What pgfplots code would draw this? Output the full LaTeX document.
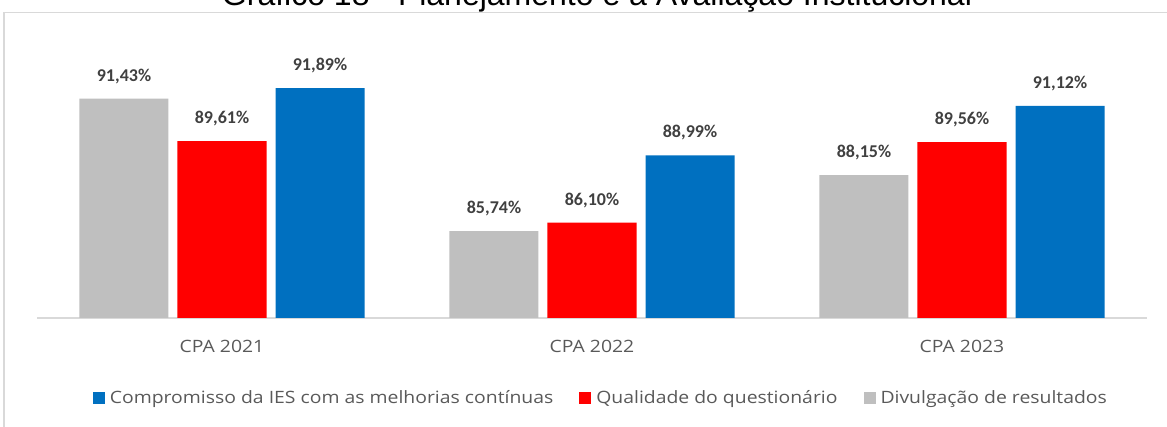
\documentclass[border=0pt]{standalone}
\usepackage{pgfplots}
\pgfplotsset{compat=1.18}
\usepackage{fontspec}
\setmainfont[FakeStretch=1.14]{Open Sans}
\newfontfamily\arialf{Liberation Sans}
\newfontfamily\labf{Carlito}
\definecolor{cblue}{HTML}{0070C0}
\definecolor{cred}{HTML}{FF0000}
\definecolor{cgray}{HTML}{BFBFBF}
\definecolor{labgray}{HTML}{404040}
\definecolor{tickgray}{HTML}{595959}
\definecolor{framegray}{HTML}{D9D9D9}
\begin{document}
\begin{tikzpicture}[x=1pt,y=1pt]
\draw[framegray, line width=1.2pt] (4,-60) -- (4,414.5) -- (1220,414.5);
\node[anchor=base, inner sep=0pt, font=\arialf\fontsize{32}{36}\selectfont] at (597,421) {Gráfico 18 - Planejamento e a Avaliação Institucional};
\begin{axis}[
  at={(37pt,109pt)}, anchor=south west,
  scale only axis, width=1110pt, height=279pt,
  xmin=-0.5, xmax=2.5, ymin=82, ymax=94,
  axis x line*=bottom, axis y line=none,
  axis line style={framegray, line width=1.5pt},
  xtick={0,1,2}, xticklabels={CPA 2021,CPA 2022,CPA 2023},
  major tick length=0pt,
  xticklabel style={font=\fontsize{17}{20}\selectfont, text=tickgray, yshift=-19pt},
  ytick=\empty,
  ybar, bar width=89pt,
  /pgf/number format/assume math mode=true,
  point meta=y,
  nodes near coords={\pgfmathprintnumber[fixed,fixed zerofill,precision=2,use comma]{\pgfplotspointmeta}\%},
  every node near coord/.append style={font=\labf\bfseries\fontsize{18}{20}\selectfont, text=labgray, inner sep=0pt, anchor=south, yshift=15pt},
  clip=false,
  legend columns=3,
  legend style={at={(0.508,-0.287)}, anchor=center, draw=none, fill=none,
    font=\fontsize{17}{20}\selectfont, text=tickgray,
    /tikz/every even column/.append style={column sep=24pt},
    /tikz/every odd column/.append style={column sep=3pt}},
  legend image code/.code={\fill[#1] (0pt,-6pt) rectangle (12pt,6pt);},
]
\addplot[fill=cblue, draw=none, bar shift=98pt] coordinates {(0,91.89) (1,88.99) (2,91.12)};
\addlegendentry{Compromisso da IES com as melhorias contínuas}
\addplot[fill=cred, draw=none, bar shift=0pt] coordinates {(0,89.61) (1,86.10) (2,89.56)};
\addlegendentry{Qualidade do questionário}
\addplot[fill=cgray, draw=none, bar shift=-98pt] coordinates {(0,91.43) (1,85.74) (2,88.15)};
\addlegendentry{Divulgação de resultados}
\end{axis}
\pgfresetboundingbox
\path[use as bounding box] (0,0) rectangle (1167,427);
\end{tikzpicture}
\end{document}
